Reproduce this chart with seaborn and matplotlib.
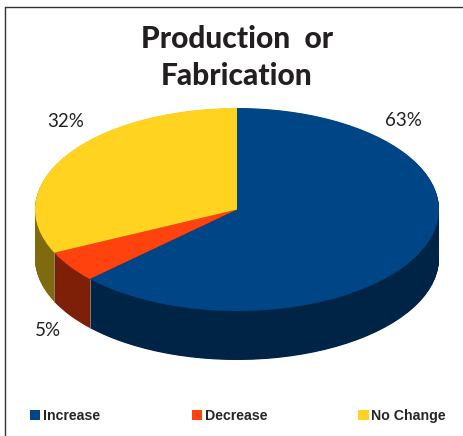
import numpy as np
import matplotlib
matplotlib.use("Agg")
import matplotlib.pyplot as plt
from matplotlib.lines import Line2D
from matplotlib.patches import Patch
import seaborn as sns

categories = ["Increase", "Decrease", "No Change"]
shares = [63, 5, 32]
top_colors = ["#004586", "#FF420E", "#FFD320"]
wall_colors = ["#002445", "#7E2007", "#806A10"]

W, H = 464, 436
DEPTH = 49 / 101.5  # wall height in units of the squashed radius

sns.set_theme(style="white")
plt.rcParams["font.family"] = ["Lato", "DejaVu Sans"]

fig = plt.figure(figsize=(W / 100, H / 100), dpi=100)
ax = fig.add_axes([35 / W, (H - 360) / H, 404 / W, 252 / H])

# walls: stack the dark pie upward, then the top face on it
for off in np.linspace(DEPTH, 0.005, 90):
    ax.pie(shares, colors=wall_colors, startangle=90, counterclock=False,
           center=(0, -off), radius=1, wedgeprops={"linewidth": 0})

# seams on the visible wall
edges = 90 - np.cumsum(shares) * 3.6
for a in edges:
    xe, ye = np.cos(np.radians(a)), np.sin(np.radians(a))
    if ye < 0:
        ax.plot([xe, xe], [ye, ye - DEPTH], color="#8a8a8a", lw=0.6, zorder=50)

wedges, _ = ax.pie(shares, colors=top_colors, startangle=90, counterclock=False,
                   radius=1, wedgeprops={"linewidth": 0})
for w in wedges:
    w.set_zorder(60)

ax.set_aspect("auto")
ax.set_xlim(-1, 1)
ax.set_ylim(-1 - DEPTH, 1)
ax.set_axis_off()

fig.text(237 / W, 1 - 39 / H, "Production  or", ha="center", va="center",
         fontsize=21.5, fontweight=900, color="#231F20")
fig.text(237 / W, 1 - 76 / H, "Fabrication", ha="center", va="center",
         fontsize=21.5, fontweight=900, color="#231F20")

label_pos = [(403, 120), (48, 330), (66, 121)]
for s, (px, py) in zip(shares, label_pos):
    fig.text(px / W, 1 - py / H, f"{s}%", ha="center", va="center",
             fontsize=13.5, color="#231F20")

handles = [Patch(facecolor=c, edgecolor="none") for c in top_colors]
fig.legend(handles, categories, loc="lower left", bbox_to_anchor=(30 / W, 1 - 423 / H),
           ncol=3, frameon=False, borderpad=0, borderaxespad=0, handlelength=0.72,
           handleheight=0.72, handletextpad=0.2, columnspacing=6.45,
           prop={"family": "Liberation Sans", "weight": "bold", "size": 10.2})

# outer frame, only left and top show
fig.add_artist(Line2D([5 / W, 5 / W], [0, 1 - 7 / H], color="#333333", lw=1.0))
fig.add_artist(Line2D([5 / W, 1], [1 - 7 / H, 1 - 7 / H], color="#333333", lw=1.0))

fig.savefig("out.png", dpi=100)
